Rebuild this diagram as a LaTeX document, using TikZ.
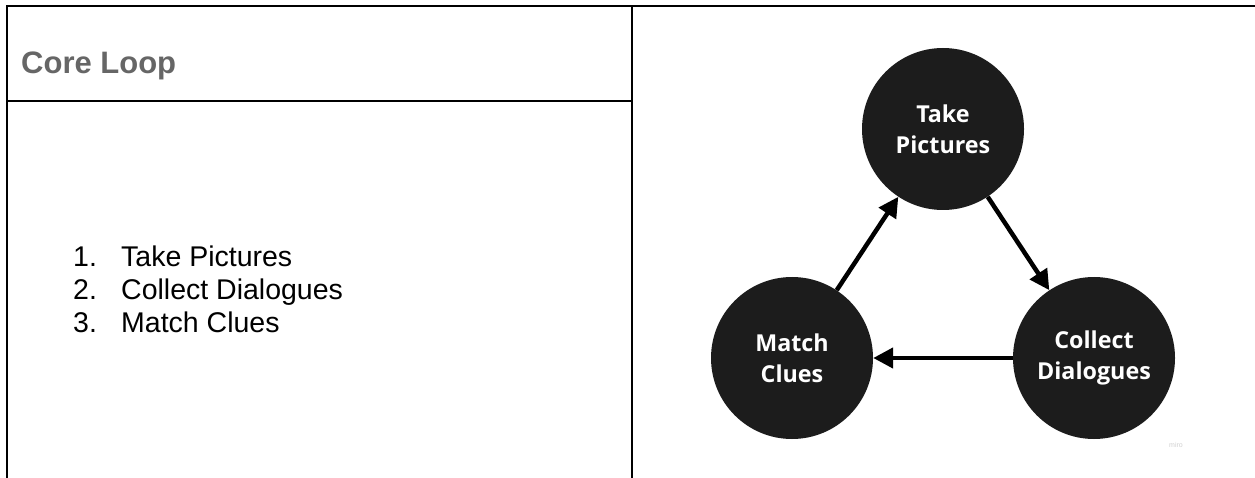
\documentclass[tikz,border=0pt]{standalone}
\usepackage{fontspec}
\setmainfont{Liberation Sans}
\newfontfamily\stagefont{Open Sans}
\usepackage{tikz}
\usetikzlibrary{arrows.meta}
\definecolor{stagefill}{HTML}{1C1C1C}
\definecolor{headgray}{HTML}{666666}
\tikzset{
  stage/.style={circle, fill=stagefill, text=white, align=center, minimum size=162pt, inner sep=0pt, font=\stagefont\bfseries\fontsize{23.3}{31}\selectfont},
  flow/.style={line width=4.5pt, -{Triangle[length=20pt,width=20pt]}},
  rule/.style={line width=2pt, line cap=rect},
  listtext/.style={anchor=base west, inner sep=0pt, font=\fontsize{28.5}{33}\selectfont}
}
\begin{document}
\begin{tikzpicture}[x=1pt, y=-1pt]
\useasboundingbox (0,0) rectangle (1255,478);
\fill[white] (0,0) rectangle (1255,478);
\draw[rule] (7,478) -- (7,6) -- (1255,6);
\draw[rule] (632,6) -- (632,478);
\draw[rule] (7,101) -- (632,101);
\node[anchor=base west, inner sep=0pt, text=headgray, font=\bfseries\fontsize{31}{36}\selectfont] (head) at (21,74) {Core Loop};
\foreach \n/\txt [count=\i] in {1/Take Pictures, 2/Collect Dialogues, 3/Match Clues} {
  \node[listtext] (num\i) at (73,{266+33*(\i-1)}) {\n.};
  \node[listtext] (item\i) at (121,{266+33*(\i-1)}) {\txt};
}
\node[stage] (take) at (943,129) {Take\\Pictures};
\node[stage] (match) at (792,358) {Match\\Clues};
\node[stage] (collect) at (1094,358) {Collect\\Dialogues};
\draw[flow] (match) -- (take);
\draw[flow] (take) -- (collect);
\draw[flow] (collect) -- (match);
\node[text=black!18, font=\fontsize{7}{8}\selectfont] (miro) at (1176,445) {miro};
\end{tikzpicture}
\end{document}
